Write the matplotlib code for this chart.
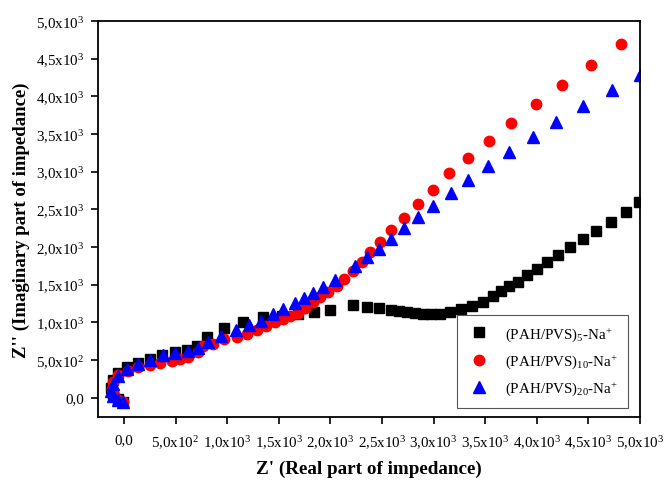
import matplotlib
matplotlib.use("Agg")
import matplotlib.pyplot as plt
import numpy as np

plt.rcParams['font.family'] = ['Liberation Serif', 'DejaVu Serif']
plt.rcParams['mathtext.fontset'] = 'custom'
plt.rcParams['mathtext.rm'] = 'Liberation Serif'
plt.rcParams['mathtext.it'] = 'Liberation Serif:italic'
plt.rcParams['mathtext.bf'] = 'Liberation Serif:bold'

# (PAH/PVS)5-Na+
x5 = [-10, -58, -107, -126, -107, -58, 29, 136, 252, 368, 494, 610, 707, 804, 969,
      1153, 1347, 1531, 1686, 1841, 1996, 2219, 2355, 2471, 2587, 2665, 2742, 2820,
      2897, 2975, 3062, 3159, 3266, 3372, 3479, 3576, 3653, 3731, 3818, 3905, 4002,
      4099, 4205, 4322, 4448, 4574, 4719, 4864, 4990]
y5 = [-57, -17, 49, 129, 235, 329, 409, 461, 515, 568, 608, 634, 688, 807, 927,
      1007, 1073, 1086, 1113, 1140, 1166, 1233, 1206, 1193, 1166, 1153, 1140, 1126,
      1113, 1113, 1113, 1140, 1180, 1219, 1273, 1352, 1419, 1485, 1538, 1631, 1711,
      1805, 1898, 2004, 2110, 2217, 2337, 2470, 2603]

# (PAH/PVS)10-Na+
x10 = [-10, -58, -97, -116, -107, -58, 39, 136, 252, 349, 465, 543, 620, 717, 766,
       862, 969, 1095, 1192, 1289, 1376, 1463, 1541, 1609, 1686, 1754, 1831, 1899,
       1977, 2064, 2132, 2219, 2306, 2384, 2481, 2587, 2713, 2849, 2994, 3149, 3333,
       3537, 3750, 3992, 4244, 4525, 4816]
y10 = [-57, -31, 36, 116, 209, 302, 355, 408, 435, 461, 488, 515, 541, 608, 688,
       714, 781, 807, 847, 900, 953, 1007, 1047, 1086, 1126, 1193, 1273, 1339,
       1406, 1485, 1578, 1685, 1805, 1938, 2071, 2230, 2390, 2576, 2762, 2988, 3188,
       3414, 3653, 3906, 4158, 4411, 4690]

# (PAH/PVS)20-Na+
x20 = [-10, -58, -107, -126, -107, -58, 29, 136, 252, 378, 494, 620, 717, 814, 940,
       1085, 1211, 1328, 1444, 1541, 1657, 1744, 1831, 1928, 2045, 2238, 2355, 2471,
       2587, 2713, 2849, 2994, 3169, 3333, 3527, 3731, 3963, 4186, 4448, 4729, 5000]
y20 = [-57, -31, 23, 89, 182, 289, 382, 448, 501, 568, 594, 621, 661, 741, 821,
       900, 967, 1020, 1113, 1180, 1259, 1326, 1392, 1472, 1565, 1751, 1871, 1977,
       2110, 2257, 2403, 2549, 2722, 2895, 3081, 3267, 3467, 3666, 3879, 4092, 4278]

ticks = [0, 500, 1000, 1500, 2000, 2500, 3000, 3500, 4000, 4500, 5000]
tick_labels = ['0,0', r'5,0x10$^{2}$', r'1,0x10$^{3}$', r'1,5x10$^{3}$', r'2,0x10$^{3}$',
               r'2,5x10$^{3}$', r'3,0x10$^{3}$', r'3,5x10$^{3}$', r'4,0x10$^{3}$',
               r'4,5x10$^{3}$', r'5,0x10$^{3}$']

labels = [r'(PAH/PVS)$_{5}$-Na$^{+}$', r'(PAH/PVS)$_{10}$-Na$^{+}$',
          r'(PAH/PVS)$_{20}$-Na$^{+}$']

fig = plt.figure(figsize=(6.66, 4.81), dpi=100)
ax = fig.add_axes([0.147, 0.131, 0.814, 0.823])

ax.plot(x5, y5, 's', color='black', ms=6.5, label=labels[0], mec='black')
ax.plot(x10, y10, 'o', color='red', ms=7.5, label=labels[1], mec='red')
ax.plot(x20, y20, '^', color='blue', ms=8, label=labels[2], mec='blue')

ax.set_xlim(-252, 5000)
ax.set_ylim(-257, 5000)
ax.set_xticks(ticks)
ax.set_xticklabels(tick_labels)
ax.set_yticks(ticks)
ax.set_yticklabels(tick_labels)
ax.tick_params(direction='out', length=5, width=1.2, labelsize=10.8, colors='black')
ax.tick_params(axis='x', pad=7)
ax.tick_params(axis='y', pad=5)
for s in ax.spines.values():
    s.set_linewidth(1.3)

ax.set_xlabel("Z' (Real part of impedance)", fontsize=13.8, fontweight='bold', labelpad=6)
ax.set_ylabel("Z'' (Imaginary part of impedance)", fontsize=13.5, fontweight='bold', labelpad=4)

leg = ax.legend(loc='lower right', bbox_to_anchor=(0.978, 0.023), borderaxespad=0,
                fontsize=10.8, fancybox=False, edgecolor='#555555', framealpha=1,
                handletextpad=1.0, labelspacing=0.65, borderpad=0.7, handlelength=1.5)
leg.get_frame().set_linewidth(0.8)

fig.savefig('out.png', dpi=100)
